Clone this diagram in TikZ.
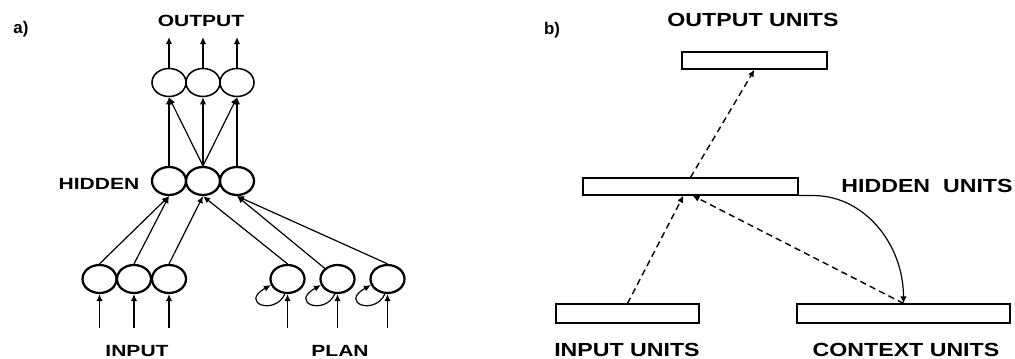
\documentclass[tikz,border=0pt]{standalone}
\usepackage{fontspec}
\setmainfont{Liberation Sans}
\usetikzlibrary{arrows.meta,calc,shapes.geometric}

% wide bold lettering
\newcommand{\widetxt}[2]{\scalebox{#1}[1]{#2}}

\tikzset{
  unit/.style={ellipse, draw, line width=1.6pt, minimum width=0.85cm,
               minimum height=0.7cm, inner sep=0pt},
  outunit/.style={unit, line width=1.1pt},
  conn/.style={line width=0.85pt, -{Latex[length=5pt,width=4.5pt]}},
  layer/.style={draw, line width=0.8pt, inner sep=0pt},
  flow/.style={conn, line width=1pt, dash pattern=on 4.5pt off 3pt},
  smalllbl/.style={font=\fontsize{11.5}{12}\selectfont\bfseries, inner sep=0pt},
  biglbl/.style={font=\fontsize{13.5}{14}\selectfont\bfseries, inner sep=0pt},
  tag/.style={font=\fontsize{12}{13}\selectfont\bfseries, inner sep=0pt},
}

\begin{document}
\begin{tikzpicture}[x=0.025cm,y=-0.025cm]
\useasboundingbox (0,0) rectangle (1015,359);

% ---------------- a) planning network ----------------
\node[tag] (ta) at (21,29) {a)};

\node[outunit] (o1) at (169,82.5) {};
\node[outunit] (o2) at (203,82.5) {};
\node[outunit] (o3) at (237,82.5) {};

\node[unit] (h1) at (169,181) {};
\node[unit] (h2) at (203,181) {};
\node[unit] (h3) at (237,181) {};

\node[unit] (i1) at (99.5,279) {};
\node[unit] (i2) at (134,279) {};
\node[unit] (i3) at (169,279) {};

\node[unit] (p1) at (287.5,279) {};
\node[unit] (p2) at (337.5,279) {};
\node[unit] (p3) at (387.5,279) {};

\node[smalllbl] (lout) at (201,21) {\widetxt{1.3}{OUTPUT}};
\node[smalllbl] (lhid) at (99,184) {\widetxt{1.3}{HIDDEN}};
\node[smalllbl] (lin)  at (137,351) {\widetxt{1.3}{INPUT}};
\node[smalllbl] (lplan) at (340,351) {\widetxt{1.3}{PLAN}};

% output lines
\foreach \n/\x in {o1/169,o2/203,o3/237}{
  \coordinate (\n top) at (\x,37);
  \draw[conn, line width=1.1pt] (\n.north) -- (\n top);
}

% hidden -> output
\draw[conn] (h1.north) -- (o1.south);
\draw[conn] (h2.north) -- (o1.south);
\draw[conn] (h2.north) -- (o2.south);
\draw[conn] (h2.north) -- (o3.south);
\draw[conn] (h3.north) -- (o3.south);

% input / plan -> hidden
\draw[conn] (i1.north) -- (h1.south);
\draw[conn] (i2.north) -- (h1.south);
\draw[conn] (i3.north) -- (h2.south);
\draw[conn] (p1.north) -- (h2.south);
\draw[conn] (p2.north west) -- (h3.south);
\draw[conn] (p3.north) -- (h3.south);

% external inputs from below
\foreach \n/\x in {i1/99.5,i2/134,i3/169,p1/287.5,p2/337.5,p3/387.5}{
  \coordinate (\n feed) at (\x,328);
  \draw[conn] (\n feed) -- (\n.south);
}

% self-recurrent plan units
\foreach \n in {p1,p2,p3}{
  \draw[conn] (\n.260) .. controls ($(\n.260)+(-10,22)$) and ($(\n.200)+(-32,18)$) .. (\n.200);
}

% ---------------- b) simple recurrent network ----------------
\node[tag] (tb) at (552,30) {b)};

\node[layer, minimum width=3.625cm, minimum height=0.425cm] (ou) at (754.5,60.5) {};
\node[layer, minimum width=5.375cm, minimum height=0.425cm] (hu) at (690.5,186.5) {};
\node[layer, minimum width=3.575cm, minimum height=0.475cm] (iu) at (627.5,313.5) {};
\node[layer, minimum width=5.325cm, minimum height=0.475cm] (cu) at (903.5,313.5) {};

\node[biglbl] (lou) at (753,20) {\widetxt{1.22}{OUTPUT UNITS}};
\node[biglbl] (lhu) at (927,186) {\widetxt{1.22}{HIDDEN\ \ UNITS}};
\node[biglbl] (liu) at (627,350) {\widetxt{1.22}{INPUT UNITS}};
\node[biglbl] (lcu) at (906,350) {\widetxt{1.22}{CONTEXT UNITS}};

\coordinate (hin)  at ($(hu.south)+(-7,0)$);
\coordinate (hctx) at ($(hu.south)+(2,0)$);
\coordinate (bend) at ($(hu.south east)+(15,0)$);

\draw[flow] (hu.north) -- (ou.south);
\draw[flow] (iu.north) -- (hin);
\draw[flow] (cu.north) -- (hctx);

% copy-back to the context units
\draw[conn] (hu.south east) -- (bend)
  .. controls ($(bend)+(50,0)$) and ($(cu.north)+(0,-60)$) .. (cu.north);

\end{tikzpicture}
\end{document}
